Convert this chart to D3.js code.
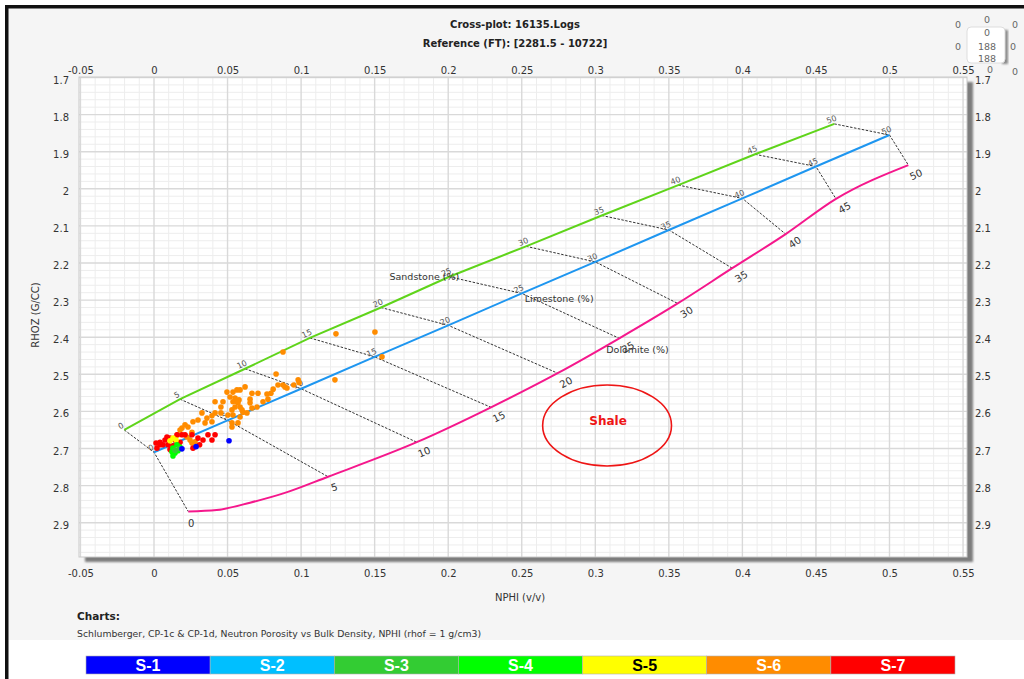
<!DOCTYPE html>
<html>
<head>
<meta charset="utf-8">
<script src="https://cdn.jsdelivr.net/npm/d3@7"></script>
<style>
  html, body { margin: 0; padding: 0; background: #fff; }
  svg { display: block; font-family: "DejaVu Sans", Verdana, sans-serif; }
</style>
</head>
<body>
<svg id="chart" width="1024" height="679"></svg>
<script>
// ---- Lithology lines: NPHI (v/v) and RHOB (g/cc) every 5 p.u. of porosity ----
const porosityTicks = [0, 5, 10, 15, 20, 25, 30, 35, 40, 45, 50];
const sandstoneNphi = [-0.0202, 0.0177, 0.0619, 0.106, 0.1543, 0.2007, 0.2529, 0.3044, 0.3564, 0.4086, 0.4625];
const sandstoneRhob = [2.65, 2.567, 2.485, 2.402, 2.32, 2.237, 2.155, 2.072, 1.99, 1.907, 1.825];
const limestoneNphi = [0, 0.05, 0.1, 0.15, 0.2, 0.25, 0.3, 0.35, 0.4, 0.45, 0.5];
const limestoneRhob = [2.71, 2.624, 2.539, 2.453, 2.368, 2.282, 2.197, 2.111, 2.026, 1.94, 1.855];
const dolomiteNphi = [0.0233, 0.1183, 0.1786, 0.2291, 0.2744, 0.3163, 0.356, 0.3931, 0.4294, 0.4636, 0.5128];
const dolomiteRhob = [2.87, 2.776, 2.683, 2.589, 2.497, 2.403, 2.309, 2.214, 2.122, 2.027, 1.936];
// extra vertices on the low-porosity bend of the dolomite curve
const dolomiteBendNphi = [0.0426, 0.0653, 0.0879];
const dolomiteBendRhob = [2.866, 2.846, 2.821];

// ---- Axis ticks ----
const xTicks = [-0.05, 0, 0.05, 0.1, 0.15, 0.2, 0.25, 0.3, 0.35, 0.4, 0.45, 0.5, 0.55];
const yTicks = [1.7, 1.8, 1.9, 2.0, 2.1, 2.2, 2.3, 2.4, 2.5, 2.6, 2.7, 2.8, 2.9];

// ---- Zones ----
const seriesNames = ["S-1", "S-2", "S-3", "S-4", "S-5", "S-6", "S-7"];
const seriesColors = ["#0000ff", "#00bfff", "#33cc33", "#00ff00", "#ffff00", "#ff8c00", "#ff0000"];
const seriesTextColors = ["#fff", "#fff", "#fff", "#fff", "#000", "#fff", "#fff"];

// ---- Log samples per zone (NPHI, RHOZ) ----
const s1Nphi = [0.051, 0.0286, 0.019];
const s1Rhob = [2.679, 2.695, 2.701];
const s2Nphi = [];
const s2Rhob = [];
const s3Nphi = [0.0143, 0.017];
const s3Rhob = [2.705, 2.700];
const s4Nphi = [0.0129, 0.0143, 0.0129, 0.0156, 0.0177, 0.0122, 0.0163];
const s4Rhob = [2.699, 2.712, 2.720, 2.690, 2.696, 2.709, 2.706];
const s5Nphi = [0.0129, 0.015, 0.0109];
const s5Rhob = [2.672, 2.677, 2.679];
const s6Nphi = [0.083, 0.0877, 0.098, 0.095, 0.0877, 0.089, 0.0904, 0.0843, 0.081, 0.0768, 0.0795, 0.0707,
  0.0666, 0.0653, 0.0619, 0.0585, 0.0564, 0.0537, 0.0496, 0.0517, 0.0551, 0.0564, 0.0578, 0.0571, 0.0537,
  0.0551, 0.0585, 0.0598, 0.0653, 0.0666, 0.07, 0.0741, 0.0775, 0.0632, 0.0605, 0.053, 0.0455, 0.0469,
  0.0415, 0.0455, 0.0503, 0.0537, 0.0585, 0.053, 0.0571, 0.053, 0.0415, 0.0394, 0.036, 0.0326, 0.0394,
  0.0347, 0.0299, 0.0265, 0.0211, 0.0231, 0.0177, 0.019, 0.0258, 0.0224, 0.0163, 0.0245, 0.0279, 0.0258,
  0.0143, 0.1237, 0.1502, 0.155, 0.123, 0.0986];
const s6Rhob = [2.499, 2.44, 2.515, 2.529, 2.529, 2.534, 2.537, 2.529, 2.54, 2.553, 2.551, 2.551,
  2.551, 2.567, 2.534, 2.542, 2.542, 2.548, 2.548, 2.561, 2.564, 2.574, 2.569, 2.577, 2.574,
  2.588, 2.588, 2.596, 2.577, 2.591, 2.588, 2.574, 2.567, 2.604, 2.602, 2.596, 2.588, 2.574,
  2.574, 2.604, 2.61, 2.61, 2.615, 2.631, 2.631, 2.642, 2.604, 2.612, 2.618, 2.604, 2.628,
  2.631, 2.623, 2.628, 2.636, 2.642, 2.65, 2.645, 2.656, 2.669, 2.663, 2.677, 2.682, 2.685,
  2.672, 2.391, 2.386, 2.453, 2.515, 2.522];
const s7Nphi = [0.0088, 0.0041, 0.0075, 0.0061, 0.0095, 0.0156, 0.019, 0.0177, 0.0211, 0.0258, 0.0299,
  0.0333, 0.0394, 0.0415, 0.0367, 0.0265, 0.0109, 0.002, 0.0041, 0.0129, 0.0143, 0.0109, 0.0014, 0.031];
const s7Rhob = [2.669, 2.683, 2.677, 2.69, 2.69, 2.663, 2.663, 2.683, 2.663, 2.663, 2.672,
  2.677, 2.677, 2.663, 2.663, 2.699, 2.703, 2.699, 2.69, 2.693, 2.677, 2.672, 2.685, 2.69];

// ---- Shale zone marker (NPHI, RHOB centre and half-extents) ----
const shaleCenter = [0.308, 2.638];
const shaleHalfSize = [0.0438, 0.109];

// ---------------------------------------------------------------------------
const svg = d3.select("#chart");
const x = d3.scaleLinear().domain([-0.05, 0.55]).range([80.45, 963.05]);
const y = d3.scaleLinear().domain([1.7, 2.9]).range([77.5, 522.7]);
const frame = { left: 79, right: 967, top: 77, bottom: 557 };

// page background, panel and border
svg.append("rect").attr("width", 1024).attr("height", 679).attr("fill", "#fff");
svg.append("rect").attr("x", 8).attr("y", 8).attr("width", 1016).attr("height", 632).attr("fill", "#f5f5f5");
svg.append("rect").attr("x", 5).attr("y", 5).attr("width", 1019).attr("height", 3.5).attr("fill", "#111");
svg.append("rect").attr("x", 5).attr("y", 5).attr("width", 3.5).attr("height", 674).attr("fill", "#111");

const defs = svg.append("defs");
defs.append("filter").attr("id", "soft").attr("x", "-5%").attr("y", "-5%").attr("width", "110%").attr("height", "110%")
  .append("feGaussianBlur").attr("stdDeviation", 1.2);
defs.append("clipPath").attr("id", "plotClip").append("rect")
  .attr("x", frame.left).attr("y", frame.top)
  .attr("width", frame.right - frame.left).attr("height", frame.bottom - frame.top);

// plot frame with drop shadow
svg.append("rect")
  .attr("x", frame.left + 6).attr("y", frame.top + 5)
  .attr("width", frame.right - frame.left).attr("height", frame.bottom - frame.top)
  .attr("fill", "#7d7d7d").attr("filter", "url(#soft)");
svg.append("rect")
  .attr("x", frame.left).attr("y", frame.top)
  .attr("width", frame.right - frame.left).attr("height", frame.bottom - frame.top)
  .attr("fill", "#fff");

// grid
const grid = svg.append("g").attr("clip-path", "url(#plotClip)");
const minorX = d3.range(-50, 556, 10).map(d => d / 1000).filter(v => Math.abs(Math.round(v * 20) - v * 20) > 1e-6);
const minorY = d3.range(170, 300, 2).map(d => d / 100).filter(v => Math.abs(Math.round(v * 10) - v * 10) > 1e-6);
grid.selectAll(".mx").data(minorX).join("line")
  .attr("x1", d => x(d)).attr("x2", d => x(d)).attr("y1", frame.top).attr("y2", frame.bottom)
  .attr("stroke", "#ededed").attr("stroke-width", 1);
grid.selectAll(".my").data(minorY).join("line")
  .attr("y1", d => y(d)).attr("y2", d => y(d)).attr("x1", frame.left).attr("x2", frame.right)
  .attr("stroke", "#ededed").attr("stroke-width", 1);
grid.selectAll(".gx").data(xTicks).join("line")
  .attr("x1", d => x(d)).attr("x2", d => x(d)).attr("y1", frame.top).attr("y2", frame.bottom)
  .attr("stroke", "#d9d9d9").attr("stroke-width", 1.4);
grid.selectAll(".gy").data(yTicks).join("line")
  .attr("y1", d => y(d)).attr("y2", d => y(d)).attr("x1", frame.left).attr("x2", frame.right)
  .attr("stroke", "#d9d9d9").attr("stroke-width", 1.4);
svg.append("rect")
  .attr("x", frame.left).attr("y", frame.top)
  .attr("width", frame.right - frame.left).attr("height", frame.bottom - frame.top)
  .attr("fill", "none").attr("stroke", "#c9c9c9").attr("stroke-width", 1);

// axes
const fmt = d => String(+d.toFixed(2));
function styleAxis(g, anchor, dx, dy) {
  g.select(".domain").remove();
  g.selectAll(".tick line").remove();
  g.selectAll(".tick text")
    .attr("x", dx).attr("y", dy).attr("dy", "0.35em")
    .attr("text-anchor", anchor)
    .attr("fill", "#333").attr("font-size", 10)
    .attr("font-family", "DejaVu Sans, Verdana, sans-serif");
}
svg.append("g").attr("transform", "translate(0,573)")
  .call(d3.axisBottom(x).tickValues(xTicks).tickFormat(fmt).tickSize(0))
  .call(g => styleAxis(g, "middle", 0, 0));
svg.append("g").attr("transform", "translate(0,70)")
  .call(d3.axisTop(x).tickValues(xTicks).tickFormat(fmt).tickSize(0))
  .call(g => styleAxis(g, "middle", 0, 0));
svg.append("g").attr("transform", "translate(69,0)")
  .call(d3.axisLeft(y).tickValues(yTicks).tickFormat(fmt).tickSize(0))
  .call(g => styleAxis(g, "end", 0, 2));
svg.append("g").attr("transform", "translate(975,0)")
  .call(d3.axisRight(y).tickValues(yTicks).tickFormat(fmt).tickSize(0))
  .call(g => styleAxis(g, "start", 0, 2));

// ---- lithology chart ----
const zipPts = (a, b) => a.map((v, i) => [v, b[i]]);
const sand = zipPts(sandstoneNphi, sandstoneRhob);
const lime = zipPts(limestoneNphi, limestoneRhob);
const dolo = zipPts(dolomiteNphi, dolomiteRhob);
const doloCurve = dolo.concat(zipPts(dolomiteBendNphi, dolomiteBendRhob)).sort((a, b) => a[0] - b[0]);
const px = d => [x(d[0]), y(d[1])];

const chart = svg.append("g").attr("clip-path", "url(#plotClip)");
const line = d3.line().x(d => x(d[0])).y(d => y(d[1]));
const smoothLine = d3.line().x(d => x(d[0])).y(d => y(d[1])).curve(d3.curveMonotoneX);

// iso-porosity connectors
chart.selectAll(".iso").data(porosityTicks).join("path")
  .attr("d", (p, i) => line([sand[i], lime[i], dolo[i]]))
  .attr("fill", "none").attr("stroke", "#333").attr("stroke-width", 1)
  .attr("stroke-dasharray", "2.5,1.5");

chart.append("path").attr("d", line(sand)).attr("fill", "none")
  .attr("stroke", "#5fd41a").attr("stroke-width", 2);
chart.append("path").attr("d", line(lime)).attr("fill", "none")
  .attr("stroke", "#1e96f0").attr("stroke-width", 2);
chart.append("path").attr("d", smoothLine(doloCurve)).attr("fill", "none")
  .attr("stroke", "#f5178c").attr("stroke-width", 2);

function angleAt(pts, i) {
  const a = px(pts[Math.max(0, i - 1)]), b = px(pts[Math.min(pts.length - 1, i + 1)]);
  return Math.atan2(b[1] - a[1], b[0] - a[0]) * 180 / Math.PI;
}

// small porosity labels on sandstone and limestone lines
[sand, lime].forEach(pts => {
  svg.append("g").selectAll("text").data(porosityTicks).join("text")
    .attr("transform", (p, i) => `translate(${px(pts[i])}) rotate(${angleAt(pts, i)})`)
    .attr("x", -1).attr("y", -2.5)
    .attr("text-anchor", "middle").attr("font-size", 8).attr("fill", "#555")
    .text(p => p);
});
// porosity labels on dolomite line
svg.append("g").selectAll("text").data(porosityTicks).join("text")
  .attr("transform", (p, i) => `translate(${px(dolo[i])}) rotate(${i === 0 ? 0 : angleAt(dolo, i)})`)
  .attr("x", 3).attr("y", 15.5)
  .attr("text-anchor", "middle").attr("font-size", 10).attr("fill", "#333")
  .text(p => p);

// lithology names at 25 p.u.
const i25 = porosityTicks.indexOf(25);
svg.append("text").attr("x", x(sand[i25][0]) + 10).attr("y", y(sand[i25][1]) + 3.5)
  .attr("text-anchor", "end").attr("font-size", 9.5).attr("fill", "#333").text("Sandstone (%)");
svg.append("text").attr("x", x(lime[i25][0]) + 3).attr("y", y(lime[i25][1]) + 9)
  .attr("text-anchor", "start").attr("font-size", 9.5).attr("fill", "#333").text("Limestone (%)");
svg.append("text").attr("x", x(dolo[i25][0]) - 13).attr("y", y(dolo[i25][1]) + 14.5)
  .attr("text-anchor", "start").attr("font-size", 9.5).attr("fill", "#333").text("Dolomite (%)");

// shale marker
const sx = x(shaleCenter[0]), sy = y(shaleCenter[1]);
svg.append("ellipse").attr("cx", sx).attr("cy", sy)
  .attr("rx", x(shaleCenter[0] + shaleHalfSize[0]) - sx)
  .attr("ry", y(shaleCenter[1] + shaleHalfSize[1]) - sy)
  .attr("fill", "none").attr("stroke", "#ee1515").attr("stroke-width", 1.6);
svg.append("text").attr("x", sx + 1).attr("y", sy - 0.5).attr("text-anchor", "middle")
  .attr("font-size", 12).attr("font-weight", "bold").attr("fill", "#ee1515").text("Shale");

// ---- log samples ----
const zones = [
  [s6Nphi, s6Rhob, 5], [s7Nphi, s7Rhob, 6], [s5Nphi, s5Rhob, 4],
  [s4Nphi, s4Rhob, 3], [s3Nphi, s3Rhob, 2], [s2Nphi, s2Rhob, 1], [s1Nphi, s1Rhob, 0]
];
const dots = svg.append("g").attr("clip-path", "url(#plotClip)");
zones.forEach(([nx, ry, k]) => {
  dots.append("g").selectAll("circle").data(zipPts(nx, ry)).join("circle")
    .attr("cx", d => x(d[0])).attr("cy", d => y(d[1])).attr("r", 2.8)
    .attr("fill", seriesColors[k]);
});

// ---- titles ----
svg.append("text").attr("x", 515).attr("y", 28).attr("text-anchor", "middle")
  .attr("font-size", 10).attr("font-weight", "bold").attr("fill", "#222").text("Cross-plot: 16135.Logs");
svg.append("text").attr("x", 515).attr("y", 47).attr("text-anchor", "middle")
  .attr("font-size", 10).attr("font-weight", "bold").attr("fill", "#222").text("Reference (FT): [2281.5 - 10722]");
svg.append("text").attr("transform", "translate(39,315) rotate(-90)").attr("text-anchor", "middle")
  .attr("font-size", 10).attr("fill", "#333").text("RHOZ (G/CC)");
svg.append("text").attr("x", 520).attr("y", 601).attr("text-anchor", "middle")
  .attr("font-size", 10).attr("fill", "#333").text("NPHI (v/v)");
svg.append("text").attr("x", 77).attr("y", 620).attr("font-size", 10.5).attr("font-weight", "bold")
  .attr("fill", "#222").text("Charts:");
svg.append("text").attr("x", 77).attr("y", 637).attr("font-size", 9.3).attr("fill", "#333")
  .text("Schlumberger, CP-1c & CP-1d, Neutron Porosity vs Bulk Density, NPHI (rhof = 1 g/cm3)");

// ---- counter widget (top right) ----
const w = svg.append("g");
w.append("rect").attr("x", 1002).attr("y", 30).attr("width", 6).attr("height", 34).attr("fill", "#8a8a8a")
  .attr("filter", "url(#soft)");
w.append("rect").attr("x", 967).attr("y", 27).attr("width", 38).attr("height", 36).attr("rx", 4)
  .attr("fill", "#fff").attr("stroke", "#ddd");
const widgetText = [
  [958, 25, "0"], [987, 20, "0"], [1015, 25, "0"],
  [987, 33, "0"], [987, 47, "188"], [987, 59, "188"],
  [958, 47, "0"], [1013, 47, "0"], [990, 70, "0"], [1015, 72, "0"]
];
w.selectAll("text").data(widgetText).join("text")
  .attr("x", d => d[0]).attr("y", d => d[1]).attr("dy", "0.35em").attr("text-anchor", "middle")
  .attr("font-size", 9.5).attr("fill", "#666").text(d => d[2]);

// ---- zone legend bar ----
const band = d3.scaleBand().domain(seriesNames).range([86, 955]).padding(0);
const lg = svg.append("g");
lg.selectAll("rect").data(seriesNames).join("rect")
  .attr("x", d => band(d)).attr("y", 656).attr("width", band.bandwidth()).attr("height", 18)
  .attr("fill", (d, i) => seriesColors[i]).attr("stroke", "#b0b0b0").attr("stroke-width", 0.6);
lg.selectAll("text").data(seriesNames).join("text")
  .attr("x", d => band(d) + band.bandwidth() / 2).attr("y", 671)
  .attr("text-anchor", "middle").attr("font-family", "Liberation Sans, Arial, sans-serif")
  .attr("font-size", 16).attr("font-weight", "bold")
  .attr("fill", (d, i) => seriesTextColors[i]).text(d => d);
</script>
</body>
</html>
